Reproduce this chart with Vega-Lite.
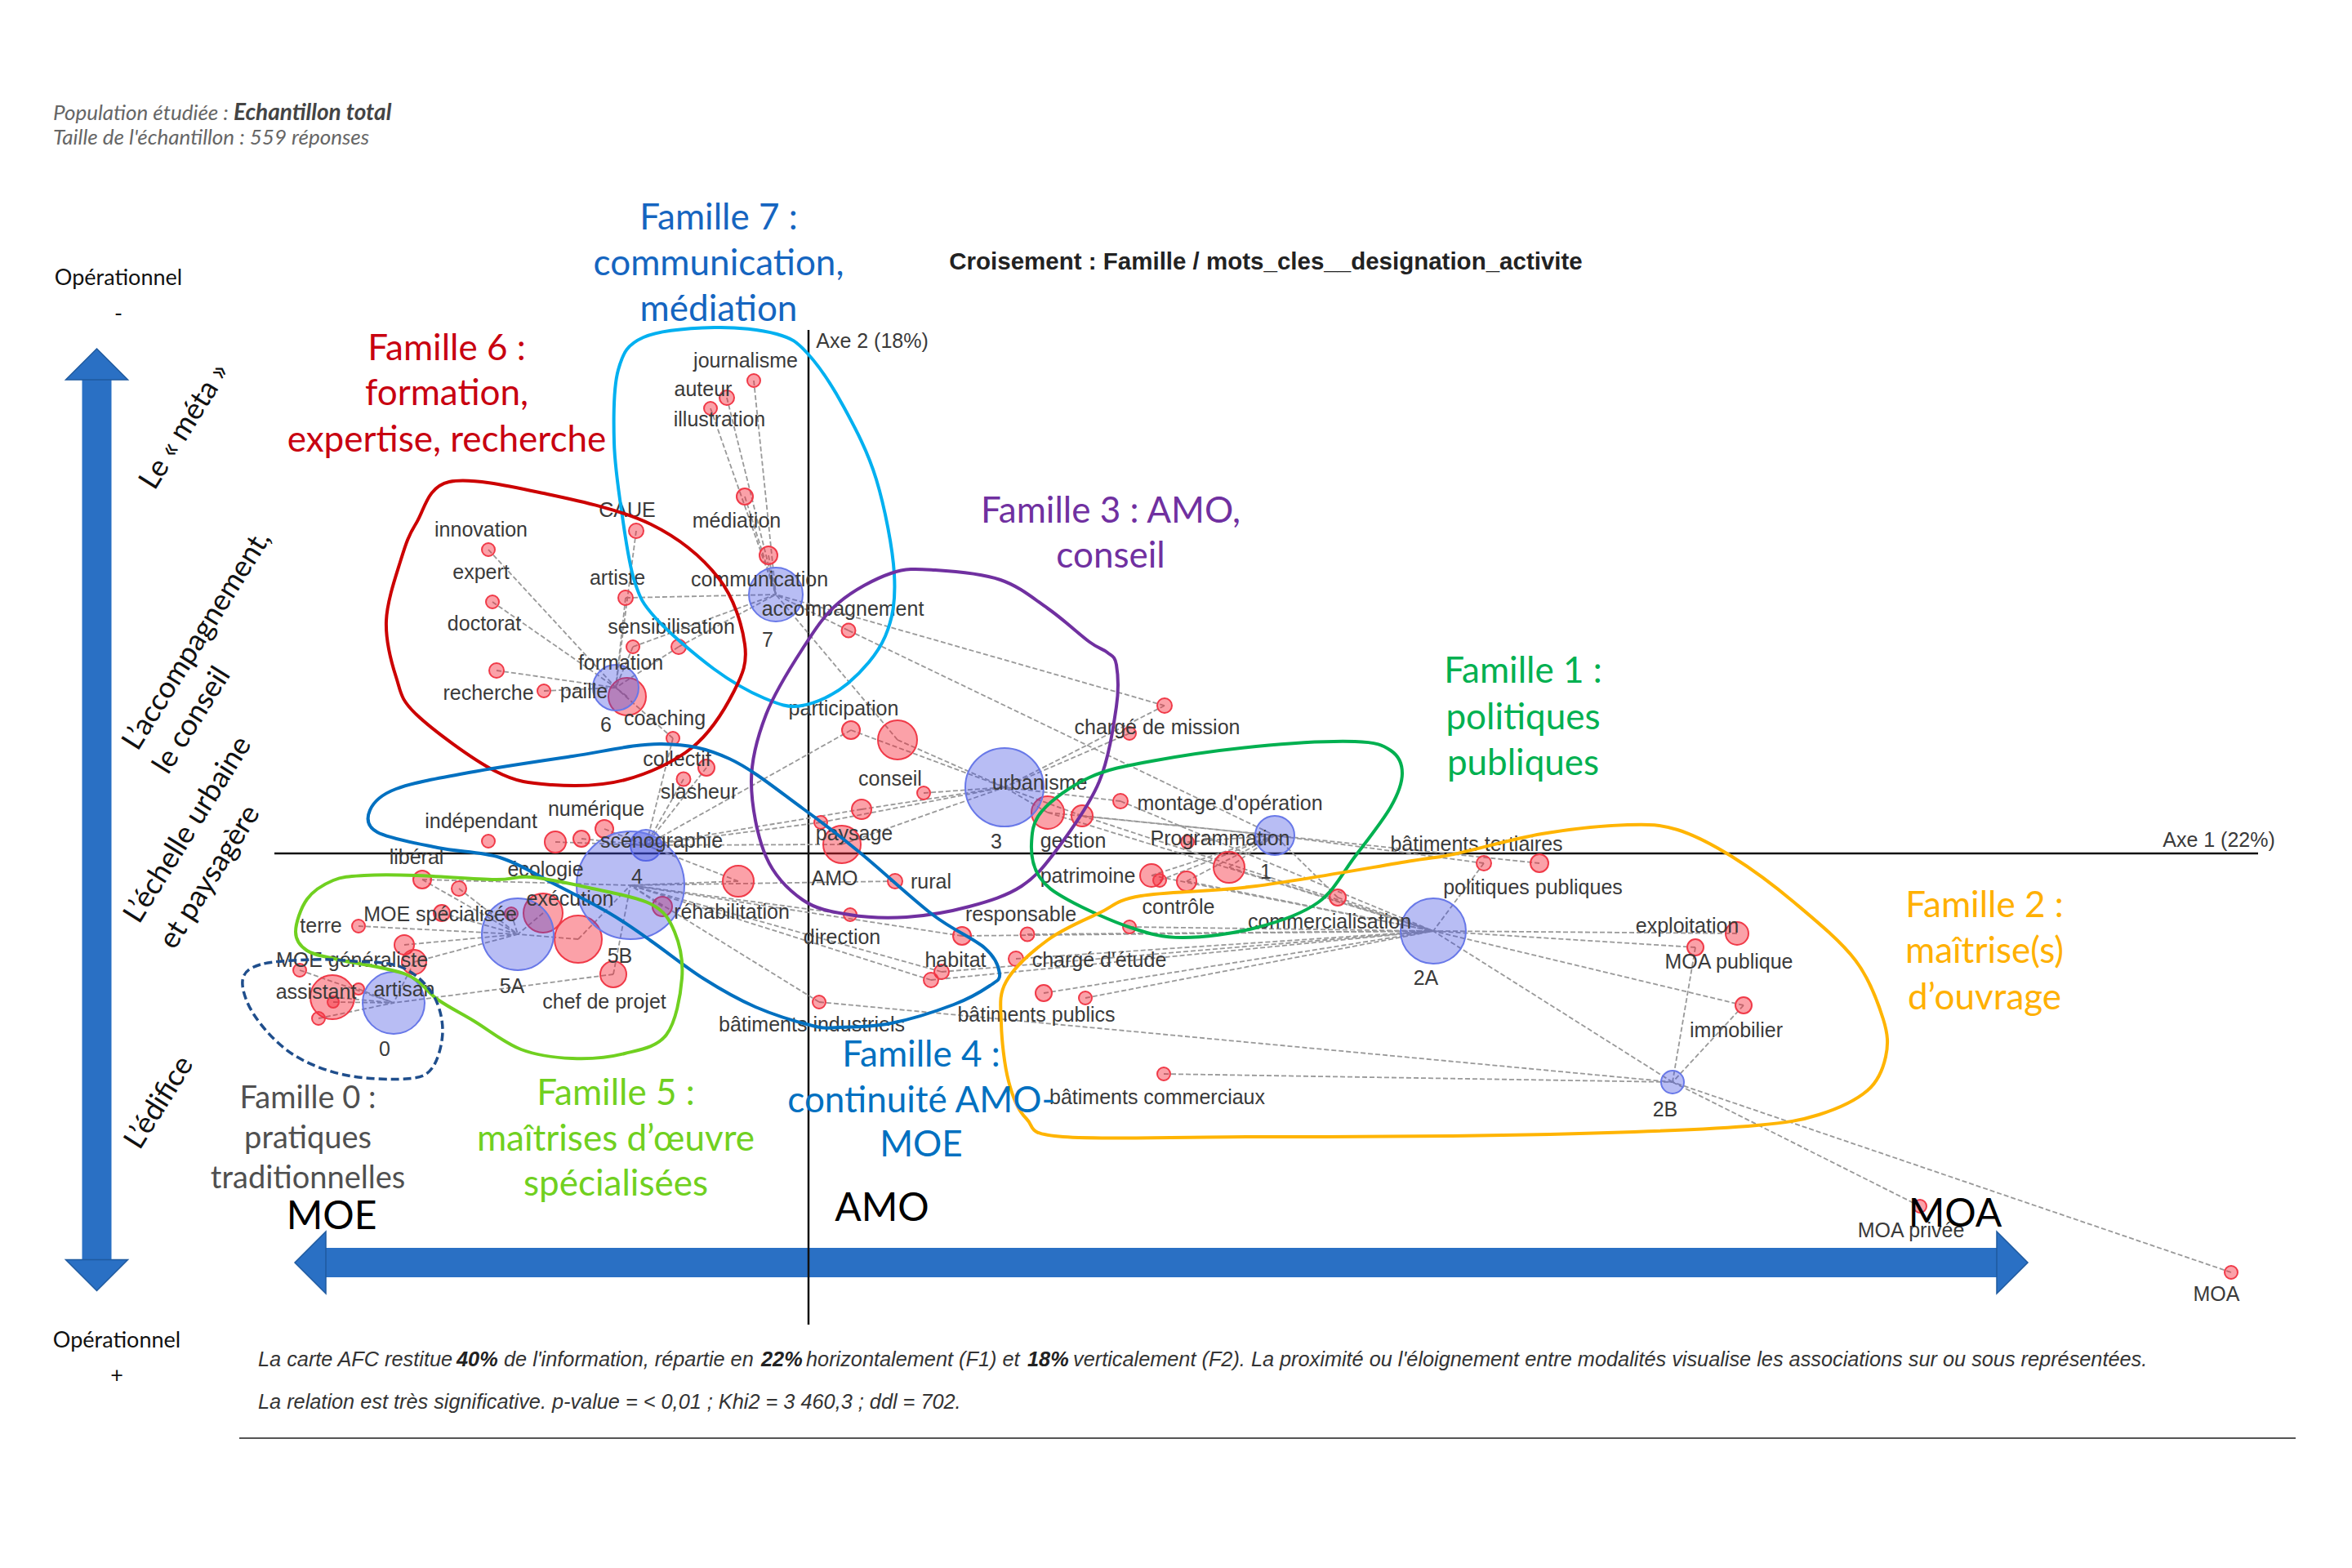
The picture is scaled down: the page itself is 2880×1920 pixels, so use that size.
{"$schema":"https://vega.github.io/schema/vega-lite/v6.json","autosize":{"type":"fit","contains":"padding"},"padding":0,"width":2880,"height":1920,"background":"white","config":{"view":{"stroke":null}},
"datasets":{
"centres":[{"id":"0","f1":-508,"f2":-183,"poids":1444},{"id":"1","f1":571,"f2":22,"poids":576},{"id":"2A","f1":765,"f2":-95,"poids":1600},{"id":"2B","f1":1058,"f2":-280,"poids":196},{"id":"3","f1":240,"f2":81,"poids":2304},{"id":"4","f1":-199,"f2":10,"poids":361},{"id":"5A","f1":-356,"f2":-99,"poids":1936},{"id":"5B","f1":-218,"f2":-39,"poids":4356},{"id":"6","f1":-236,"f2":203,"poids":784},{"id":"7","f1":-40,"f2":317,"poids":1089}],
"modalites":[
{"f1":-67,"f2":579,"poids":64,"liens":["7"]},{"f1":-100,"f2":558,"poids":81,"liens":["7"]},{"f1":-120,"f2":545,"poids":64,"liens":["7"]},{"f1":-78,"f2":437,"poids":100,"liens":["7"]},{"f1":-49,"f2":365,"poids":121,"liens":["7"]},{"f1":-211,"f2":395,"poids":81,"liens":["6"]},{"f1":-224,"f2":313,"poids":81,"liens":["6","7"]},{"f1":-215,"f2":253,"poids":64,"liens":["6","7"]},{"f1":-159,"f2":253,"poids":81,"liens":["6","7"]},{"f1":-222,"f2":192,"poids":529,"liens":["6"]},{"f1":-324,"f2":199,"poids":64,"liens":["6"]},{"f1":-166,"f2":141,"poids":64,"liens":["6","4"]},{"f1":49,"f2":273,"poids":72,"liens":["7","1"]},{"f1":436,"f2":181,"poids":81,"liens":["7","3"]},{"f1":52,"f2":151,"poids":121,"liens":["3","4"]},{"f1":109,"f2":139,"poids":576,"liens":["3","7"]},{"f1":-392,"f2":372,"poids":64,"liens":["6"]},{"f1":-387,"f2":308,"poids":64,"liens":["6"]},{"f1":-382,"f2":224,"poids":81,"liens":["6"]},{"f1":-125,"f2":105,"poids":100,"liens":["4"]},{"f1":-153,"f2":91,"poids":72,"liens":["4"]},{"f1":-250,"f2":30,"poids":121,"liens":["4"]},{"f1":-278,"f2":18,"poids":100,"liens":["4"]},{"f1":-310,"f2":14,"poids":169,"liens":["4"]},{"f1":-392,"f2":15,"poids":64,"liens":[]},{"f1":-473,"f2":-32,"poids":121,"liens":["5A","5B"]},{"f1":-428,"f2":-43,"poids":81,"liens":["5A"]},{"f1":-551,"f2":-89,"poids":64,"liens":["5A"]},{"f1":-449,"f2":-73,"poids":100,"liens":["5A"]},{"f1":-364,"f2":-74,"poids":64,"liens":["5A"]},{"f1":-325,"f2":-73,"poids":576,"liens":["5A"]},{"f1":-282,"f2":-105,"poids":841,"liens":["5B","5A"]},{"f1":-179,"f2":-65,"poids":144,"liens":["5B"]},{"f1":-86,"f2":-34,"poids":361,"liens":["5B","4"]},{"f1":-239,"f2":-148,"poids":256,"liens":["0","5B"]},{"f1":-495,"f2":-112,"poids":144,"liens":["5A"]},{"f1":-483,"f2":-133,"poids":225,"liens":["5A","0"]},{"f1":-623,"f2":-143,"poids":64,"liens":["0"]},{"f1":-583,"f2":-176,"poids":729,"liens":["0"]},{"f1":-582,"f2":-182,"poids":49,"liens":["0"]},{"f1":-551,"f2":-166,"poids":49,"liens":["0"]},{"f1":-600,"f2":-202,"poids":64,"liens":["0"]},
{"f1":41,"f2":11,"poids":529,"liens":["4","3"]},{"f1":15,"f2":38,"poids":64,"liens":["3","4"]},{"f1":65,"f2":54,"poids":144,"liens":["3","4"]},{"f1":141,"f2":74,"poids":64,"liens":["3"]},{"f1":293,"f2":50,"poids":400,"liens":["3","1","2A"]},{"f1":335,"f2":46,"poids":169,"liens":["3","1","2A"]},{"f1":382,"f2":64,"poids":81,"liens":["3","2A"]},{"f1":393,"f2":147,"poids":64,"liens":["3"]},{"f1":106,"f2":-34,"poids":81,"liens":["5B"]},{"f1":51,"f2":-75,"poids":64,"liens":["5B"]},{"f1":188,"f2":-101,"poids":121,"liens":["5B","2A"]},{"f1":268,"f2":-99,"poids":72,"liens":["2A"]},{"f1":254,"f2":-129,"poids":81,"liens":["2A"]},{"f1":163,"f2":-145,"poids":81,"liens":["5B","2A"]},{"f1":150,"f2":-155,"poids":81,"liens":["5B","2A"]},{"f1":13,"f2":-182,"poids":64,"liens":["5B","2B"]},{"f1":288,"f2":-171,"poids":100,"liens":["2A"]},{"f1":339,"f2":-177,"poids":64,"liens":["2A"]},{"f1":435,"f2":-270,"poids":64,"liens":["2B"]},{"f1":393,"f2":-90,"poids":64,"liens":["2A"]},{"f1":420,"f2":-27,"poids":196,"liens":["1","2A"]},{"f1":430,"f2":-33,"poids":64,"liens":["1"]},{"f1":463,"f2":-34,"poids":144,"liens":["1","2A"]},{"f1":515,"f2":-17,"poids":361,"liens":["1","2A"]},{"f1":464,"f2":14,"poids":64,"liens":["1"]},{"f1":648,"f2":-54,"poids":100,"liens":["1","2A"]},{"f1":827,"f2":-12,"poids":81,"liens":["1","2A"]},{"f1":895,"f2":-12,"poids":121,"liens":["1"]},{"f1":1137,"f2":-98,"poids":196,"liens":["2A"]},{"f1":1086,"f2":-115,"poids":100,"liens":["2A","2B"]},{"f1":1145,"f2":-186,"poids":100,"liens":["2A","2B"]},{"f1":1361,"f2":-432,"poids":64,"liens":["2B"]},{"f1":1742,"f2":-513,"poids":64,"liens":["2B"]},{"f1":1058,"f2":-280,"poids":0,"liens":["2A"]}],
"traits":[{"type":"axe","f1":-654,"f2":0,"f1fin":1775,"f2fin":0},{"type":"axe","f1":0,"f2":641,"f1fin":0,"f2fin":-577},{"type":"fleche","f1":-871.5,"f2":580,"f1fin":-871.5,"f2fin":-498},{"type":"fleche","f1":-593,"f2":-501,"f1fin":1456,"f2fin":-501},{"type":"filet","f1":-697,"f2":-716,"f1fin":1821,"f2fin":-716}],
"pointes":[{"sens":"haut","f1":-871.5,"f2":599},{"sens":"bas","f1":-871.5,"f2":-516.5},{"sens":"gauche","f1":-610,"f2":-501},{"sens":"droite","f1":1474,"f2":-501}],
"contours":[
{"famille":"Famille 7","ordre":1,"f1":-115,"f2":644},{"famille":"Famille 7","ordre":2,"f1":-39,"f2":636},{"famille":"Famille 7","ordre":3,"f1":-1,"f2":612},{"famille":"Famille 7","ordre":4,"f1":43,"f2":547},{"famille":"Famille 7","ordre":5,"f1":83,"f2":458},{"famille":"Famille 7","ordre":6,"f1":105,"f2":342},{"famille":"Famille 7","ordre":7,"f1":94,"f2":266},{"famille":"Famille 7","ordre":8,"f1":48,"f2":208},{"famille":"Famille 7","ordre":9,"f1":-8,"f2":181},{"famille":"Famille 7","ordre":10,"f1":-54,"f2":190},{"famille":"Famille 7","ordre":11,"f1":-116,"f2":226},{"famille":"Famille 7","ordre":12,"f1":-187,"f2":288},{"famille":"Famille 7","ordre":13,"f1":-213,"f2":333},{"famille":"Famille 7","ordre":14,"f1":-228,"f2":413},{"famille":"Famille 7","ordre":15,"f1":-238,"f2":503},{"famille":"Famille 7","ordre":16,"f1":-233,"f2":592},{"famille":"Famille 7","ordre":17,"f1":-202,"f2":632},
{"famille":"Famille 6","ordre":1,"f1":-440,"f2":455},{"famille":"Famille 6","ordre":2,"f1":-320,"f2":440},{"famille":"Famille 6","ordre":3,"f1":-193,"f2":403},{"famille":"Famille 6","ordre":4,"f1":-110,"f2":337},{"famille":"Famille 6","ordre":5,"f1":-78,"f2":256},{"famille":"Famille 6","ordre":6,"f1":-91,"f2":199},{"famille":"Famille 6","ordre":7,"f1":-142,"f2":130},{"famille":"Famille 6","ordre":8,"f1":-225,"f2":90},{"famille":"Famille 6","ordre":9,"f1":-314,"f2":84},{"famille":"Famille 6","ordre":10,"f1":-384,"f2":101},{"famille":"Famille 6","ordre":11,"f1":-480,"f2":170},{"famille":"Famille 6","ordre":12,"f1":-505,"f2":216},{"famille":"Famille 6","ordre":13,"f1":-517,"f2":285},{"famille":"Famille 6","ordre":14,"f1":-499,"f2":360},{"famille":"Famille 6","ordre":15,"f1":-480,"f2":405},
{"famille":"Famille 3","ordre":1,"f1":155,"f2":347},{"famille":"Famille 3","ordre":2,"f1":101,"f2":343},{"famille":"Famille 3","ordre":3,"f1":37,"f2":307},{"famille":"Famille 3","ordre":4,"f1":-7,"f2":251},{"famille":"Famille 3","ordre":5,"f1":-52,"f2":170},{"famille":"Famille 3","ordre":6,"f1":-70,"f2":88},{"famille":"Famille 3","ordre":7,"f1":-52,"f2":-4},{"famille":"Famille 3","ordre":8,"f1":-7,"f2":-57},{"famille":"Famille 3","ordre":9,"f1":50,"f2":-75},{"famille":"Famille 3","ordre":10,"f1":120,"f2":-78},{"famille":"Famille 3","ordre":11,"f1":197,"f2":-65},{"famille":"Famille 3","ordre":12,"f1":261,"f2":-40},{"famille":"Famille 3","ordre":13,"f1":305,"f2":6},{"famille":"Famille 3","ordre":14,"f1":356,"f2":88},{"famille":"Famille 3","ordre":15,"f1":377,"f2":180},{"famille":"Famille 3","ordre":16,"f1":377,"f2":231},{"famille":"Famille 3","ordre":17,"f1":366,"f2":246},{"famille":"Famille 3","ordre":18,"f1":344,"f2":259},{"famille":"Famille 3","ordre":19,"f1":293,"f2":300},{"famille":"Famille 3","ordre":20,"f1":235,"f2":335},
{"famille":"Famille 1","ordre":1,"f1":669,"f2":137},{"famille":"Famille 1","ordre":2,"f1":713,"f2":126},{"famille":"Famille 1","ordre":3,"f1":727,"f2":98},{"famille":"Famille 1","ordre":4,"f1":713,"f2":57},{"famille":"Famille 1","ordre":5,"f1":669,"f2":-4},{"famille":"Famille 1","ordre":6,"f1":624,"f2":-60},{"famille":"Famille 1","ordre":7,"f1":548,"f2":-91},{"famille":"Famille 1","ordre":8,"f1":458,"f2":-103},{"famille":"Famille 1","ordre":9,"f1":395,"f2":-91},{"famille":"Famille 1","ordre":10,"f1":318,"f2":-57},{"famille":"Famille 1","ordre":11,"f1":283,"f2":-29},{"famille":"Famille 1","ordre":12,"f1":273,"f2":11},{"famille":"Famille 1","ordre":13,"f1":286,"f2":52},{"famille":"Famille 1","ordre":14,"f1":344,"f2":93},{"famille":"Famille 1","ordre":15,"f1":420,"f2":113},{"famille":"Famille 1","ordre":16,"f1":548,"f2":131},
{"famille":"Famille 2","ordre":1,"f1":898,"f2":24},{"famille":"Famille 2","ordre":2,"f1":1003,"f2":35},{"famille":"Famille 2","ordre":3,"f1":1064,"f2":29},{"famille":"Famille 2","ordre":4,"f1":1131,"f2":-4},{"famille":"Famille 2","ordre":5,"f1":1207,"f2":-60},{"famille":"Famille 2","ordre":6,"f1":1282,"f2":-131},{"famille":"Famille 2","ordre":7,"f1":1316,"f2":-203},{"famille":"Famille 2","ordre":8,"f1":1319,"f2":-249},{"famille":"Famille 2","ordre":9,"f1":1297,"f2":-290},{"famille":"Famille 2","ordre":10,"f1":1237,"f2":-320},{"famille":"Famille 2","ordre":11,"f1":1161,"f2":-333},{"famille":"Famille 2","ordre":12,"f1":1011,"f2":-341},{"famille":"Famille 2","ordre":13,"f1":785,"f2":-346},{"famille":"Famille 2","ordre":14,"f1":548,"f2":-347},{"famille":"Famille 2","ordre":15,"f1":312,"f2":-347},{"famille":"Famille 2","ordre":16,"f1":267,"f2":-325},{"famille":"Famille 2","ordre":17,"f1":245,"f2":-279},{"famille":"Famille 2","ordre":18,"f1":236,"f2":-208},{"famille":"Famille 2","ordre":19,"f1":242,"f2":-157},{"famille":"Famille 2","ordre":20,"f1":293,"f2":-106},{"famille":"Famille 2","ordre":21,"f1":356,"f2":-73},{"famille":"Famille 2","ordre":22,"f1":407,"f2":-52},{"famille":"Famille 2","ordre":23,"f1":548,"f2":-40},{"famille":"Famille 2","ordre":24,"f1":739,"f2":-9},{"famille":"Famille 2","ordre":25,"f1":790,"f2":-1},
{"famille":"Famille 4","ordre":1,"f1":-180,"f2":134},{"famille":"Famille 4","ordre":2,"f1":-97,"f2":116},{"famille":"Famille 4","ordre":3,"f1":-7,"f2":55},{"famille":"Famille 4","ordre":4,"f1":63,"f2":1},{"famille":"Famille 4","ordre":5,"f1":152,"f2":-75},{"famille":"Famille 4","ordre":6,"f1":216,"f2":-116},{"famille":"Famille 4","ordre":7,"f1":234,"f2":-147},{"famille":"Famille 4","ordre":8,"f1":222,"f2":-162},{"famille":"Famille 4","ordre":9,"f1":178,"f2":-185},{"famille":"Famille 4","ordre":10,"f1":101,"f2":-208},{"famille":"Famille 4","ordre":11,"f1":37,"f2":-213},{"famille":"Famille 4","ordre":12,"f1":5,"f2":-211},{"famille":"Famille 4","ordre":13,"f1":-65,"f2":-188},{"famille":"Famille 4","ordre":14,"f1":-129,"f2":-153},{"famille":"Famille 4","ordre":15,"f1":-193,"f2":-107},{"famille":"Famille 4","ordre":16,"f1":-244,"f2":-73},{"famille":"Famille 4","ordre":17,"f1":-314,"f2":-36},{"famille":"Famille 4","ordre":18,"f1":-378,"f2":-5},{"famille":"Famille 4","ordre":19,"f1":-454,"f2":7},{"famille":"Famille 4","ordre":20,"f1":-528,"f2":26},{"famille":"Famille 4","ordre":21,"f1":-537,"f2":53},{"famille":"Famille 4","ordre":22,"f1":-505,"f2":79},{"famille":"Famille 4","ordre":23,"f1":-416,"f2":99},{"famille":"Famille 4","ordre":24,"f1":-289,"f2":119},
{"famille":"Famille 5","ordre":1,"f1":-544,"f2":-27},{"famille":"Famille 5","ordre":2,"f1":-480,"f2":-27},{"famille":"Famille 5","ordre":3,"f1":-384,"f2":-32},{"famille":"Famille 5","ordre":4,"f1":-340,"f2":-29},{"famille":"Famille 5","ordre":5,"f1":-269,"f2":-42},{"famille":"Famille 5","ordre":6,"f1":-193,"f2":-62},{"famille":"Famille 5","ordre":7,"f1":-164,"f2":-96},{"famille":"Famille 5","ordre":8,"f1":-155,"f2":-153},{"famille":"Famille 5","ordre":9,"f1":-174,"f2":-222},{"famille":"Famille 5","ordre":10,"f1":-225,"f2":-245},{"famille":"Famille 5","ordre":11,"f1":-289,"f2":-251},{"famille":"Famille 5","ordre":12,"f1":-352,"f2":-240},{"famille":"Famille 5","ordre":13,"f1":-410,"f2":-205},{"famille":"Famille 5","ordre":14,"f1":-454,"f2":-179},{"famille":"Famille 5","ordre":15,"f1":-493,"f2":-148},{"famille":"Famille 5","ordre":16,"f1":-576,"f2":-130},{"famille":"Famille 5","ordre":17,"f1":-614,"f2":-119},{"famille":"Famille 5","ordre":18,"f1":-628,"f2":-96},{"famille":"Famille 5","ordre":19,"f1":-614,"f2":-56},{"famille":"Famille 5","ordre":20,"f1":-582,"f2":-33},
{"famille":"Famille 0","ordre":1,"f1":-607,"f2":-130},{"famille":"Famille 0","ordre":2,"f1":-671,"f2":-136},{"famille":"Famille 0","ordre":3,"f1":-693,"f2":-156},{"famille":"Famille 0","ordre":4,"f1":-678,"f2":-199},{"famille":"Famille 0","ordre":5,"f1":-633,"f2":-245},{"famille":"Famille 0","ordre":6,"f1":-569,"f2":-271},{"famille":"Famille 0","ordre":7,"f1":-493,"f2":-276},{"famille":"Famille 0","ordre":8,"f1":-461,"f2":-263},{"famille":"Famille 0","ordre":9,"f1":-448,"f2":-217},{"famille":"Famille 0","ordre":10,"f1":-461,"f2":-171},{"famille":"Famille 0","ordre":11,"f1":-499,"f2":-139},{"famille":"Famille 0","ordre":12,"f1":-556,"f2":-132}],
"textes":[
{"groupe":"etiquette","texte":"journalisme","f1":-77,"f2":603},{"groupe":"etiquette","texte":"auteur","f1":-129,"f2":568},{"groupe":"etiquette","texte":"illustration","f1":-109,"f2":531},{"groupe":"etiquette","texte":"médiation","f1":-88,"f2":407},{"groupe":"etiquette","texte":"CAUE","f1":-222,"f2":420},{"groupe":"etiquette","texte":"artiste","f1":-234,"f2":337},{"groupe":"etiquette","texte":"communication","f1":-60,"f2":335},{"groupe":"etiquette","texte":"accompagnement","f1":42,"f2":299},{"groupe":"etiquette","texte":"sensibilisation","f1":-168,"f2":277},{"groupe":"etiquette","texte":"formation","f1":-230,"f2":233},{"groupe":"etiquette","texte":"paille","f1":-275,"f2":198},{"groupe":"etiquette","texte":"7","f1":-50,"f2":261},{"groupe":"etiquette","texte":"6","f1":-248,"f2":157},{"groupe":"etiquette","texte":"coaching","f1":-176,"f2":165},{"groupe":"etiquette","texte":"participation","f1":43,"f2":177},{"groupe":"etiquette","texte":"innovation","f1":-401,"f2":396},{"groupe":"etiquette","texte":"expert","f1":-401,"f2":344},{"groupe":"etiquette","texte":"doctorat","f1":-397,"f2":281},{"groupe":"etiquette","texte":"recherche","f1":-392,"f2":196},{"groupe":"etiquette","texte":"collectif","f1":-161,"f2":115},{"groupe":"etiquette","texte":"slasheur","f1":-134,"f2":75},{"groupe":"etiquette","texte":"numérique","f1":-260,"f2":54},{"groupe":"etiquette","texte":"indépendant","f1":-401,"f2":39},{"groupe":"etiquette","texte":"scénographie","f1":-180,"f2":15},{"groupe":"etiquette","texte":"4","f1":-210,"f2":-29},{"groupe":"etiquette","texte":"libéral","f1":-480,"f2":-5},{"groupe":"etiquette","texte":"écologie","f1":-322,"f2":-20},{"groupe":"etiquette","texte":"exécution","f1":-292,"f2":-56},{"groupe":"etiquette","texte":"MOE spécialisée","f1":-451,"f2":-75},{"groupe":"etiquette","texte":"terre","f1":-597,"f2":-89},{"groupe":"etiquette","texte":"réhabilitation","f1":-94,"f2":-72},{"groupe":"etiquette","texte":"5B","f1":-231,"f2":-126},{"groupe":"etiquette","texte":"MOE généraliste","f1":-559,"f2":-131},{"groupe":"etiquette","texte":"assistant","f1":-603,"f2":-170},{"groupe":"etiquette","texte":"artisan","f1":-495,"f2":-167},{"groupe":"etiquette","texte":"5A","f1":-363,"f2":-163},{"groupe":"etiquette","texte":"chef de projet","f1":-250,"f2":-182},{"groupe":"etiquette","texte":"0","f1":-519,"f2":-240},{"groupe":"etiquette","texte":"bâtiments industriels","f1":4,"f2":-210},{"groupe":"etiquette","texte":"conseil","f1":100,"f2":91},{"groupe":"etiquette","texte":"urbanisme","f1":283,"f2":86},{"groupe":"etiquette","texte":"3","f1":230,"f2":14},{"groupe":"etiquette","texte":"gestion","f1":324,"f2":15},{"groupe":"etiquette","texte":"paysage","f1":56,"f2":24},{"groupe":"etiquette","texte":"AMO","f1":32,"f2":-31},{"groupe":"etiquette","texte":"rural","f1":150,"f2":-35},{"groupe":"etiquette","texte":"montage d'opération","f1":516,"f2":61},{"groupe":"etiquette","texte":"chargé de mission","f1":427,"f2":154},{"groupe":"etiquette","texte":"Programmation","f1":504,"f2":18},{"groupe":"etiquette","texte":"1","f1":560,"f2":-23},{"groupe":"etiquette","texte":"patrimoine","f1":342,"f2":-28},{"groupe":"etiquette","texte":"contrôle","f1":453,"f2":-66},{"groupe":"etiquette","texte":"responsable","f1":260,"f2":-75},{"groupe":"etiquette","texte":"direction","f1":41,"f2":-103},{"groupe":"etiquette","texte":"commercialisation","f1":638,"f2":-84},{"groupe":"etiquette","texte":"habitat","f1":180,"f2":-131},{"groupe":"etiquette","texte":"chargé d'étude","f1":356,"f2":-131},{"groupe":"etiquette","texte":"bâtiments publics","f1":279,"f2":-198},{"groupe":"etiquette","texte":"bâtiments commerciaux","f1":427,"f2":-299},{"groupe":"etiquette","texte":"2A","f1":756,"f2":-153},{"groupe":"etiquette","texte":"bâtiments tertiaires","f1":818,"f2":11},{"groupe":"etiquette","texte":"politiques publiques","f1":887,"f2":-42},{"groupe":"etiquette","texte":"exploitation","f1":1076,"f2":-89},{"groupe":"etiquette","texte":"MOA publique","f1":1127,"f2":-133},{"groupe":"etiquette","texte":"immobilier","f1":1136,"f2":-217},{"groupe":"etiquette","texte":"2B","f1":1049,"f2":-314},{"groupe":"etiquette","texte":"MOA privée","f1":1350,"f2":-462},{"groupe":"etiquette","texte":"MOA","f1":1724,"f2":-540},{"groupe":"etiquette","texte":"Axe 1 (22%)","f1":1727,"f2":16},{"groupe":"etiquette","texte":"Axe 2 (18%)","f1":78,"f2":627},
{"groupe":"titre","texte":"Croisement : Famille / mots_cles__designation_activite","f1":560,"f2":724},
{"groupe":"entete","texte":"Population étudiée : ","f1":-925,"f2":906},{"groupe":"entete-gras","texte":"Echantillon total","f1":-704,"f2":906},{"groupe":"entete","texte":"Taille de l'échantillon : 559 réponses","f1":-925,"f2":876},
{"groupe":"pied","texte":"La carte AFC restitue","f1":-674,"f2":-620},{"groupe":"pied-gras","texte":"40%","f1":-431,"f2":-620},{"groupe":"pied","texte":"de l'information, répartie en","f1":-373,"f2":-620},{"groupe":"pied-gras","texte":"22%","f1":-58,"f2":-620},{"groupe":"pied","texte":"horizontalement (F1) et","f1":-3,"f2":-620},{"groupe":"pied-gras","texte":"18%","f1":268,"f2":-620},{"groupe":"pied","texte":"verticalement (F2). La proximité ou l'éloignement entre modalités visualise les associations sur ou sous représentées.","f1":324,"f2":-620},{"groupe":"pied","texte":"La relation est très significative. p-value = < 0,01 ; Khi2 = 3 460,3 ; ddl = 702.","f1":-674,"f2":-672},
{"groupe":"famille","famille":"Famille 7","texte":"Famille 7 :","f1":-110,"f2":777},{"groupe":"famille","famille":"Famille 7","texte":"communication,","f1":-110,"f2":721},{"groupe":"famille","famille":"Famille 7","texte":"médiation","f1":-110,"f2":665},
{"groupe":"famille","famille":"Famille 6","texte":"Famille 6 :","f1":-443,"f2":617},{"groupe":"famille","famille":"Famille 6","texte":"formation,","f1":-443,"f2":562},{"groupe":"famille","famille":"Famille 6","texte":"expertise, recherche","f1":-443,"f2":505},
{"groupe":"famille","famille":"Famille 3","texte":"Famille 3 : AMO,","f1":370,"f2":418},{"groupe":"famille","famille":"Famille 3","texte":"conseil","f1":370,"f2":363},
{"groupe":"famille","famille":"Famille 1","texte":"Famille 1 :","f1":875,"f2":222},{"groupe":"famille","famille":"Famille 1","texte":"politiques","f1":875,"f2":165},{"groupe":"famille","famille":"Famille 1","texte":"publiques","f1":875,"f2":109},
{"groupe":"famille","famille":"Famille 2","texte":"Famille 2 :","f1":1440,"f2":-65},{"groupe":"famille","famille":"Famille 2","texte":"maîtrise(s)","f1":1440,"f2":-121},{"groupe":"famille","famille":"Famille 2","texte":"d’ouvrage","f1":1440,"f2":-178},
{"groupe":"famille","famille":"Famille 4","texte":"Famille 4 :","f1":138,"f2":-248},{"groupe":"famille","famille":"Famille 4","texte":"continuité AMO-","f1":138,"f2":-304},{"groupe":"famille","famille":"Famille 4","texte":"MOE","f1":138,"f2":-358},
{"groupe":"famille","famille":"Famille 5","texte":"Famille 5 :","f1":-236,"f2":-295},{"groupe":"famille","famille":"Famille 5","texte":"maîtrises d’œuvre","f1":-236,"f2":-351},{"groupe":"famille","famille":"Famille 5","texte":"spécialisées","f1":-236,"f2":-406},
{"groupe":"famille0","texte":"Famille 0 :","f1":-613,"f2":-301},{"groupe":"famille0","texte":"pratiques","f1":-613,"f2":-350},{"groupe":"famille0","texte":"traditionnelles","f1":-613,"f2":-399},
{"groupe":"pole","texte":"MOE","f1":-584,"f2":-446},{"groupe":"pole","texte":"AMO","f1":90,"f2":-436},{"groupe":"pole","texte":"MOA","f1":1404,"f2":-443},
{"groupe":"operationnel","texte":"Opérationnel","f1":-845,"f2":704},{"groupe":"operationnel","texte":"-","f1":-845,"f2":660},{"groupe":"operationnel","texte":"Opérationnel","f1":-847,"f2":-597},{"groupe":"operationnel","texte":"+","f1":-847,"f2":-640},
{"groupe":"oblique","texte":"Le « méta »","f1":-764,"f2":523},{"groupe":"oblique","texte":"L’accompagnement,","f1":-749,"f2":261},{"groupe":"oblique","texte":"le conseil","f1":-755,"f2":163},{"groupe":"oblique","texte":"L’échelle urbaine","f1":-760,"f2":29},{"groupe":"oblique","texte":"et paysagère","f1":-733,"f2":-29},{"groupe":"oblique","texte":"L’édifice","f1":-795,"f2":-305}]
},
"encoding":{"x":{"field":"f1","type":"quantitative","scale":{"domain":[-990,1890],"nice":false,"zero":false},"axis":null},"y":{"field":"f2","type":"quantitative","scale":{"domain":[-875,1045],"nice":false,"zero":false},"axis":null}},
"resolve":{"scale":{"color":"independent"}},
"layer":[
{"data":{"name":"traits"},"transform":[{"filter":"datum.type==='fleche'"}],"mark":{"type":"rule","stroke":"#2a70c4","strokeWidth":36},"encoding":{"x2":{"field":"f1fin"},"y2":{"field":"f2fin"}}},
{"data":{"name":"pointes"},"mark":{"type":"point","filled":true,"opacity":1,"fill":"#2a70c4","stroke":"#1f5a9f","strokeWidth":1.5,"size":1444},"encoding":{"shape":{"field":"sens","type":"nominal","scale":{"domain":["haut","bas","gauche","droite"],"range":["M0,-1L2,1L-2,1Z","M0,1L2,-1L-2,-1Z","M-1,0L1,-2L1,2Z","M1,0L-1,-2L-1,2Z"]},"legend":null}}},
{"data":{"name":"traits"},"transform":[{"filter":"datum.type==='axe'"}],"mark":{"type":"rule","stroke":"#111111","strokeWidth":2.5},"encoding":{"x2":{"field":"f1fin"},"y2":{"field":"f2fin"}}},
{"data":{"name":"traits"},"transform":[{"filter":"datum.type==='filet'"}],"mark":{"type":"rule","stroke":"#555555","strokeWidth":2},"encoding":{"x2":{"field":"f1fin"},"y2":{"field":"f2fin"}}},
{"data":{"name":"modalites"},"transform":[{"flatten":["liens"]},{"lookup":"liens","from":{"data":{"name":"centres"},"key":"id","fields":["f1","f2"]},"as":["c1","c2"]}],"mark":{"type":"rule","stroke":"#999999","strokeWidth":1.8,"strokeDash":[6,3]},"encoding":{"x2":{"field":"c1"},"y2":{"field":"c2"}}},
{"data":{"name":"modalites"},"mark":{"type":"circle","fill":"#f5202f","fillOpacity":0.42,"opacity":1,"stroke":"#f03a48","strokeWidth":2},"encoding":{"size":{"field":"poids","type":"quantitative","scale":{"domain":[0,1000],"range":[0,4000]},"legend":null}}},
{"data":{"name":"centres"},"mark":{"type":"circle","fill":"#3a48e0","fillOpacity":0.36,"opacity":1,"stroke":"#6878e8","strokeWidth":2},"encoding":{"size":{"field":"poids","type":"quantitative","scale":{"domain":[0,1000],"range":[0,4000]},"legend":null}}},
{"data":{"name":"textes"},"transform":[{"filter":"datum.groupe==='etiquette'"}],"mark":{"type":"text","font":"Liberation Sans","fontSize":25,"fill":"#3a3a3a","align":"center","baseline":"middle"},"encoding":{"text":{"field":"texte"}}},
{"data":{"name":"contours"},"transform":[{"filter":"datum.famille!=='Famille 0'"}],"mark":{"type":"line","interpolate":"cardinal-closed","strokeWidth":4},"encoding":{"order":{"field":"ordre","type":"quantitative"},"color":{"field":"famille","type":"nominal","scale":{"domain":["Famille 1","Famille 2","Famille 3","Famille 4","Famille 5","Famille 6","Famille 7"],"range":["#00b050","#ffb400","#7030a0","#0070c0","#70d020","#cc0000","#00b0f0"]},"legend":null}}},
{"data":{"name":"contours"},"transform":[{"filter":"datum.famille==='Famille 0'"}],"mark":{"type":"line","interpolate":"cardinal-closed","strokeWidth":3.5,"strokeDash":[10,5],"stroke":"#1f4e8c"},"encoding":{"order":{"field":"ordre","type":"quantitative"}}},
{"data":{"name":"textes"},"transform":[{"filter":"datum.groupe==='famille'"}],"mark":{"type":"text","font":"Lato","fontSize":44,"align":"center","baseline":"middle"},"encoding":{"text":{"field":"texte"},"color":{"field":"famille","type":"nominal","scale":{"domain":["Famille 1","Famille 2","Famille 3","Famille 4","Famille 5","Famille 6","Famille 7"],"range":["#00b050","#ffb000","#7030a0","#0070c0","#70d020","#c80010","#1565c0"]},"legend":null}}},
{"data":{"name":"textes"},"transform":[{"filter":"datum.groupe==='famille0'"}],"mark":{"type":"text","font":"Lato","fontSize":38,"fill":"#505050","align":"center","baseline":"middle"},"encoding":{"text":{"field":"texte"}}},
{"data":{"name":"textes"},"transform":[{"filter":"datum.groupe==='pole'"}],"mark":{"type":"text","font":"Lato","fontSize":48,"fill":"#000000","align":"center","baseline":"middle"},"encoding":{"text":{"field":"texte"}}},
{"data":{"name":"textes"},"transform":[{"filter":"datum.groupe==='operationnel'"}],"mark":{"type":"text","font":"Lato","fontSize":27,"fill":"#111111","align":"center","baseline":"middle"},"encoding":{"text":{"field":"texte"}}},
{"data":{"name":"textes"},"transform":[{"filter":"datum.groupe==='oblique'"}],"mark":{"type":"text","font":"Lato","fontSize":36,"fill":"#111111","align":"center","baseline":"middle","angle":302},"encoding":{"text":{"field":"texte"}}},
{"data":{"name":"textes"},"transform":[{"filter":"datum.groupe==='titre'"}],"mark":{"type":"text","font":"Liberation Sans","fontWeight":"bold","fontSize":29.5,"fill":"#222222","align":"center","baseline":"middle"},"encoding":{"text":{"field":"texte"}}},
{"data":{"name":"textes"},"transform":[{"filter":"datum.groupe==='entete'"}],"mark":{"type":"text","font":"Lato","fontStyle":"italic","fontSize":26,"fill":"#666666","align":"left","baseline":"middle"},"encoding":{"text":{"field":"texte"}}},
{"data":{"name":"textes"},"transform":[{"filter":"datum.groupe==='entete-gras'"}],"mark":{"type":"text","font":"Lato","fontStyle":"italic","fontWeight":"bold","fontSize":28,"fill":"#444444","align":"left","baseline":"middle"},"encoding":{"text":{"field":"texte"}}},
{"data":{"name":"textes"},"transform":[{"filter":"datum.groupe==='pied'"}],"mark":{"type":"text","font":"Liberation Sans","fontStyle":"italic","fontSize":25.3,"fill":"#333333","align":"left","baseline":"middle"},"encoding":{"text":{"field":"texte"}}},
{"data":{"name":"textes"},"transform":[{"filter":"datum.groupe==='pied-gras'"}],"mark":{"type":"text","font":"Liberation Sans","fontStyle":"italic","fontWeight":"bold","fontSize":25.3,"fill":"#222222","align":"left","baseline":"middle"},"encoding":{"text":{"field":"texte"}}}
]}
